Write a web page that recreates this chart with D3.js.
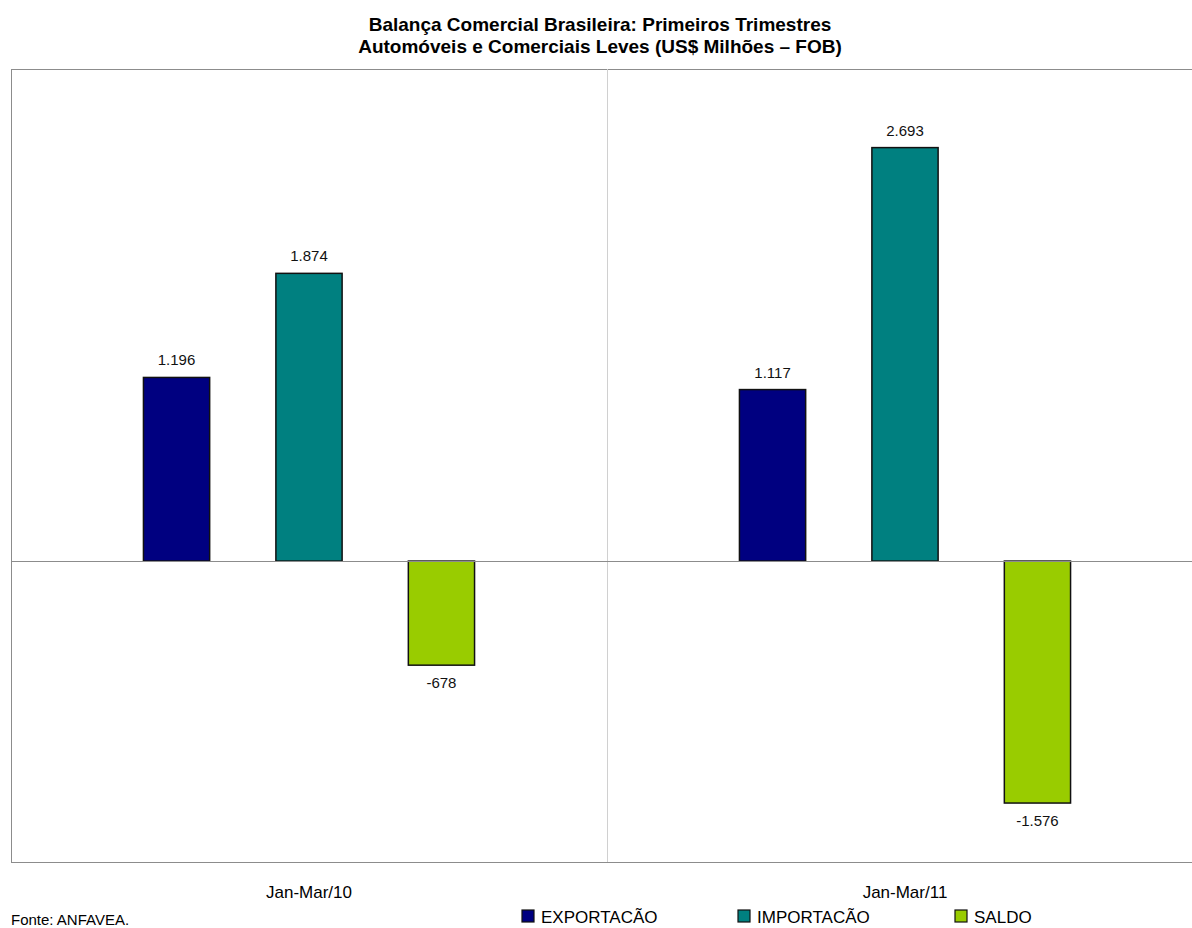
<!DOCTYPE html>
<html>
<head>
<meta charset="utf-8">
<script src="https://cdn.jsdelivr.net/npm/d3@7"></script>
<style>
  body { margin: 0; background: #fff; }
  svg { font-family: "Liberation Sans", Arial, sans-serif; display: block; }
</style>
</head>
<body>
<div id="chart"></div>
<script>
var categories = ["Jan-Mar/10", "Jan-Mar/11"];
var seriesNames = ["EXPORTACÃO", "IMPORTACÃO", "SALDO"];
var seriesColors = ["#000080", "#008080", "#99CC00"];
var exportacao = [1196, 1117];
var importacao = [1874, 2693];
var saldo = [-678, -1576];
var titleLines = ["Balança Comercial Brasileira: Primeiros Trimestres",
    "Automóveis e Comerciais Leves (US$ Milhões – FOB)"];

var series = [exportacao, importacao, saldo];
var fmt = function(v) {
    return d3.format(",")(v).replace(/,/g, ".").replace("\u2212", "-");
};

var W = 1192, H = 928;
var margin = { top: 69, right: -11, bottom: 66, left: 11 };
var width = W - margin.left - margin.right;
var height = H - margin.top - margin.bottom;

var svg = d3.select("#chart").append("svg")
    .attr("width", W)
    .attr("height", H);

// titulo
svg.append("g").selectAll("text")
    .data(titleLines).enter().append("text")
    .attr("x", 600)
    .attr("y", function(d, i) { return 31 + i * 22; })
    .attr("text-anchor", "middle")
    .attr("font-size", 19)
    .attr("font-weight", "bold")
    .text(function(d) { return d; });

var g = svg.append("g")
    .attr("transform", "translate(" + margin.left + "," + margin.top + ")");

var x0 = d3.scaleBand().domain(categories).range([0, width]);
var x1 = d3.scaleBand().domain(d3.range(seriesNames.length))
    .range([0, x0.bandwidth()])
    .paddingInner(0.5)
    .paddingOuter(1.0);
var y = d3.scaleLinear().domain([-1960, 3205]).range([height, 0]);

// borda da area
g.append("rect")
    .attr("x", 0.5)
    .attr("y", 0.5)
    .attr("width", width)
    .attr("height", height)
    .attr("fill", "none")
    .attr("stroke", "#8c8c8c")
    .attr("stroke-width", 1);

// separadores das categorias
g.selectAll(".sep")
    .data(categories.slice(1)).enter().append("line")
    .attr("x1", function(d) { return Math.round(x0(d)) + 0.5; })
    .attr("x2", function(d) { return Math.round(x0(d)) + 0.5; })
    .attr("y1", 0)
    .attr("y2", height)
    .attr("stroke", "#d0d0d0");

var rows = [];
categories.forEach(function(c, ci) {
    series.forEach(function(s, si) {
        rows.push({ cat: c, s: si, value: s[ci] });
    });
});

var bar = g.selectAll(".bar-item")
    .data(rows).enter().append("g")
    .attr("transform", function(d) {
        return "translate(" + (x0(d.cat) + x1(d.s)) + ",0)";
    });

bar.append("rect")
    .attr("x", 0)
    .attr("width", x1.bandwidth())
    .attr("y", function(d) { return y(Math.max(0, d.value)); })
    .attr("height", function(d) { return Math.abs(y(d.value) - y(0)); })
    .attr("fill", function(d) { return seriesColors[d.s]; })
    .attr("stroke", "#111")
    .attr("stroke-width", 1.5);

bar.append("text")
    .attr("x", x1.bandwidth() / 2)
    .attr("y", function(d) {
        return d.value >= 0 ? y(d.value) - 12 : y(d.value) + 23;
    })
    .attr("text-anchor", "middle")
    .attr("font-size", 15)
    .attr("fill", "#111")
    .text(function(d) { return fmt(d.value); });

// linha do zero
g.append("line")
    .attr("x1", 0)
    .attr("x2", width)
    .attr("y1", Math.round(y(0)) + 0.5)
    .attr("y2", Math.round(y(0)) + 0.5)
    .attr("stroke", "#8c8c8c");

// rotulos das categorias
g.selectAll(".cat")
    .data(categories).enter().append("text")
    .attr("x", function(d) { return x0(d) + x0.bandwidth() / 2; })
    .attr("y", height + 36)
    .attr("text-anchor", "middle")
    .attr("font-size", 17)
    .text(function(d) { return d; });

// fonte
svg.append("text")
    .attr("x", 11)
    .attr("y", 925)
    .attr("font-size", 15)
    .text("Fonte: ANFAVEA.");

// legenda
var legX = [522, 738, 955];
var leg = svg.selectAll(".leg")
    .data(seriesNames).enter().append("g")
    .attr("transform", function(d, i) { return "translate(" + legX[i] + ",910)"; });

leg.append("rect")
    .attr("width", 12)
    .attr("height", 12)
    .attr("fill", function(d, i) { return seriesColors[i]; })
    .attr("stroke", "#111")
    .attr("stroke-width", 1.2);

leg.append("text")
    .attr("x", 19)
    .attr("y", 13)
    .attr("font-size", 17)
    .text(function(d) { return d; });
</script>
</body>
</html>
